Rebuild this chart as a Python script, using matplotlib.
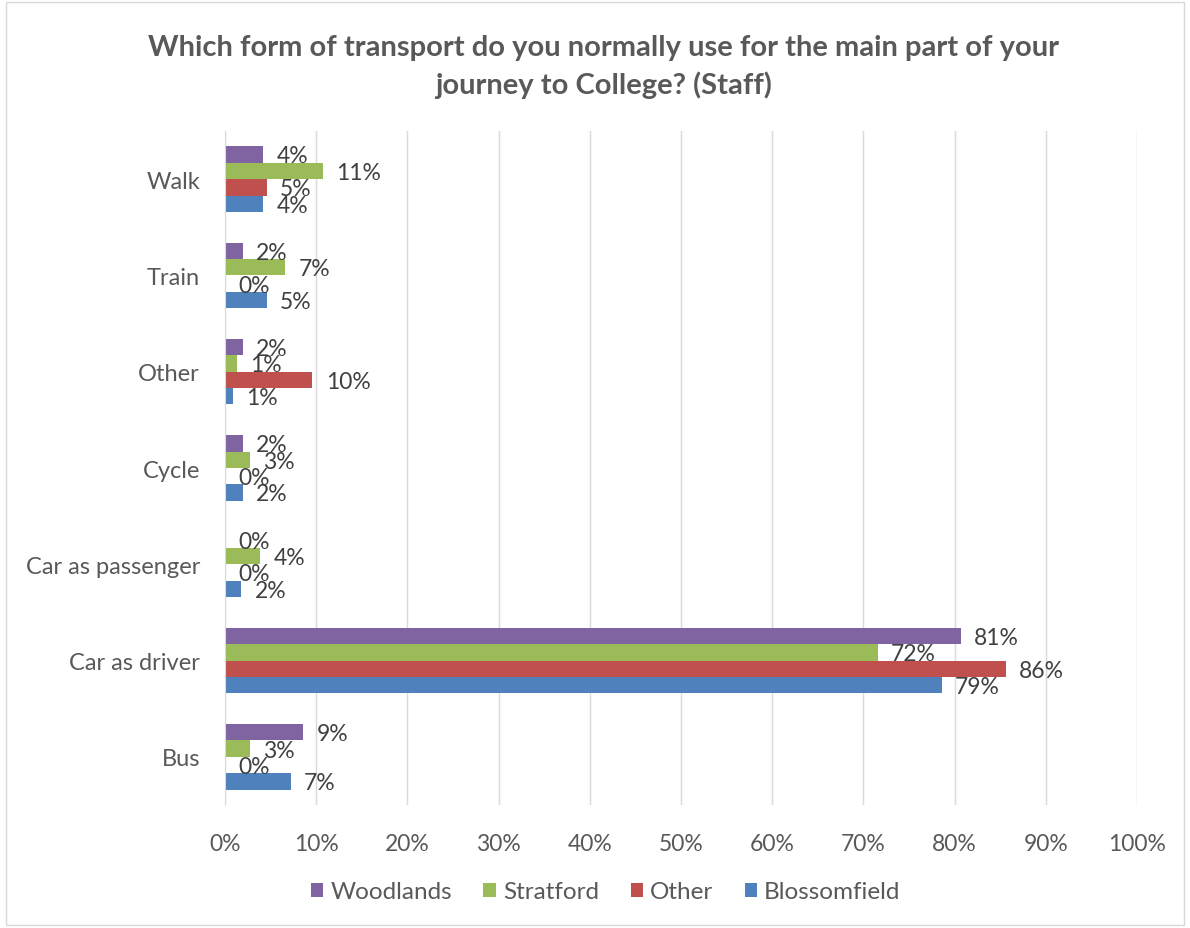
import numpy as np
import matplotlib.pyplot as plt
from matplotlib.patches import Rectangle
from matplotlib.ticker import PercentFormatter

plt.rcParams['font.family'] = ['Lato', 'DejaVu Sans']

categories = ["Bus", "Car as driver", "Car as passenger", "Cycle", "Other", "Train", "Walk"]
# values (fraction of staff)
woodlands    = [0.086, 0.807, 0.000, 0.020, 0.020, 0.020, 0.042]
stratford    = [0.027, 0.716, 0.039, 0.027, 0.013, 0.066, 0.107]
other        = [0.000, 0.856, 0.000, 0.000, 0.096, 0.000, 0.046]
blossomfield = [0.072, 0.786, 0.018, 0.020, 0.009, 0.046, 0.042]

series = [("Blossomfield", blossomfield, "#4F81BD"),
          ("Other", other, "#C0504D"),
          ("Stratford", stratford, "#9BBB59"),
          ("Woodlands", woodlands, "#8064A2")]

grey = "#595959"

fig = plt.figure(figsize=(11.9, 9.29), dpi=100)
ax = fig.add_axes([0.189, 0.1324, 0.7665, 0.7255])

y = np.arange(len(categories))
h = 0.17
handles = {}
for i, (name, vals, col) in enumerate(series):
    pos = y + (i - 1.5) * h
    b = ax.barh(pos, vals, height=h, color=col, label=name, zorder=3)
    handles[name] = b
    for p, v in zip(pos, vals):
        ax.annotate("{:.0f}%".format(v * 100), xy=(v, p), xytext=(9.5, -1),
                    textcoords="offset points", ha="left", va="center",
                    fontsize=16.5, color="#404040", zorder=4)

ax.set_xlim(0, 1)
ax.set_ylim(-0.5, len(categories) - 0.5)
ax.set_xticks(np.arange(0, 1.01, 0.1))
ax.xaxis.set_major_formatter(PercentFormatter(1.0, decimals=0))
ax.set_yticks(y)
ax.set_yticklabels(categories)
ax.tick_params(axis="x", length=0, pad=20, labelsize=16.5, labelcolor=grey)
ax.tick_params(axis="y", length=0, pad=18, labelsize=17, labelcolor=grey)
ax.grid(axis="x", color="#d9d9d9", linewidth=1, zorder=0)
for s in ["top", "right", "bottom"]:
    ax.spines[s].set_visible(False)
ax.spines["left"].set_color("#d9d9d9")
ax.spines["left"].set_zorder(5)

fig.suptitle("Which form of transport do you normally use for the main part of your\njourney to College? (Staff)",
             x=0.507, y=0.962, fontsize=21, fontweight="bold", color=grey, linespacing=1.45)

order = ["Woodlands", "Stratford", "Other", "Blossomfield"]
fig.legend([handles[n] for n in order], order, loc="center", bbox_to_anchor=(0.509, 1 - 893 / 929),
           ncol=4, frameon=False, fontsize=17.5, handlelength=0.5, handleheight=0.5,
           handletextpad=0.3, columnspacing=1.3, labelcolor=grey)

fig.patches.append(Rectangle((0.005, 0.003), 0.99, 0.994, transform=fig.transFigure,
                             fill=False, edgecolor="#d9d9d9", linewidth=1))

plt.savefig("out.png")
